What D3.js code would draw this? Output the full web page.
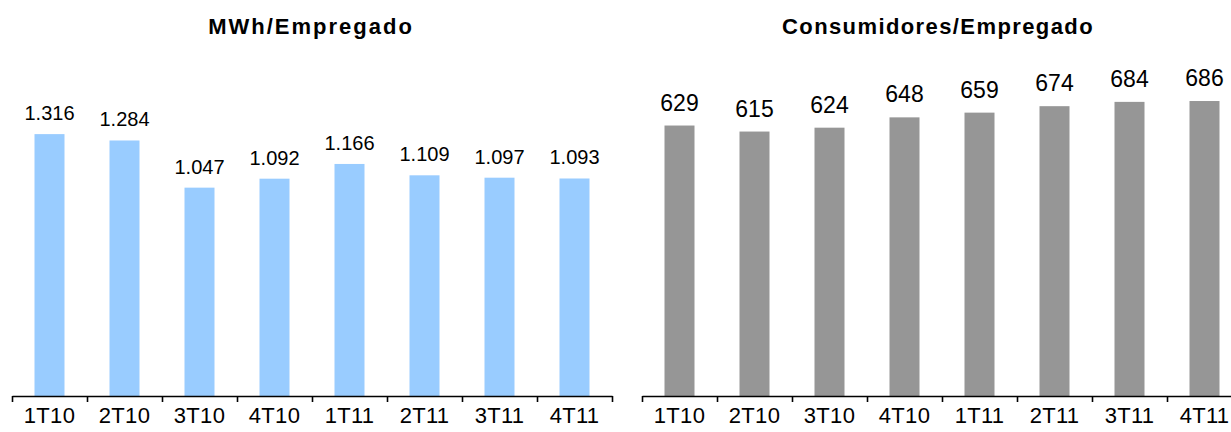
<!DOCTYPE html>
<html>
<head>
<meta charset="utf-8">
<script src="https://cdn.jsdelivr.net/npm/d3@7"></script>
<style>
  body { margin: 0; background: #fff; overflow: hidden; }
  svg { display: block; font-family: "Liberation Sans", Arial, sans-serif; }
</style>
</head>
<body>
<svg id="chart"></svg>
<script>
// Data
const quarters = ["1T10", "2T10", "3T10", "4T10", "1T11", "2T11", "3T11", "4T11"];
const mwhPerEmployee = [1.316, 1.284, 1.047, 1.092, 1.166, 1.109, 1.097, 1.093];
const consumersPerEmployee = [629, 615, 624, 648, 659, 674, 684, 686];

const width = 1231, height = 432;
const baseY = 396;

const svg = d3.select("#chart").attr("width", width).attr("height", height);

function drawPanel(opts) {
  const g = svg.append("g");

  // band scale for bars (step = 75px)
  const x = d3.scaleBand()
    .domain(quarters)
    .range([opts.x0, opts.x0 + 600])
    .paddingInner(0.6)
    .paddingOuter(0.3);

  const y = d3.scaleLinear()
    .domain(opts.domain)
    .range([baseY, opts.top]);

  // Title
  g.append("text")
    .attr("x", opts.titleX)
    .attr("y", 33.5)
    .attr("text-anchor", "middle")
    .style("font-size", "22px")
    .style("font-weight", "bold")
    .style("letter-spacing", opts.titleSpacing + "px")
    .text(opts.title);

  // Bars
  g.append("g")
    .selectAll("rect")
    .data(opts.values)
    .join("rect")
    .attr("x", (d, i) => x(quarters[i]))
    .attr("y", (d) => y(d))
    .attr("width", x.bandwidth())
    .attr("height", (d) => baseY - y(d))
    .attr("fill", opts.color);

  // Value labels
  g.append("g")
    .selectAll("text")
    .data(opts.values)
    .join("text")
    .attr("x", (d, i) => x(quarters[i]) + x.bandwidth() / 2)
    .attr("y", (d) => y(d) - opts.labelGap)
    .attr("text-anchor", "middle")
    .style("font-size", opts.labelSize + "px")
    .attr("fill", "#000")
    .text(opts.format);

  // Tick marks at category boundaries
  const xb = d3.scaleLinear().domain([0, quarters.length]).range([opts.x0, opts.x0 + 600]);
  const tickAxis = g.append("g")
    .attr("transform", `translate(0,${baseY})`)
    .call(d3.axisBottom(xb).tickValues(d3.range(quarters.length + 1)).tickSize(6).tickSizeOuter(0).tickFormat(""));
  tickAxis.selectAll("path, line").attr("stroke", "#000").attr("stroke-width", 1.6);

  // Category labels
  const labelAxis = g.append("g")
    .attr("transform", `translate(0,${baseY})`)
    .call(d3.axisBottom(x).tickSize(0).tickPadding(11));
  labelAxis.select(".domain").remove();
  labelAxis.selectAll("text")
    .style("font-size", "22px")
    .style("letter-spacing", "0.3px")
    .style("font-family", "'Liberation Sans', Arial, sans-serif")
    .attr("fill", "#000");
}

drawPanel({
  x0: 12,
  title: "MWh/Empregado",
  titleX: 311,
  titleSpacing: 2,
  values: mwhPerEmployee,
  domain: [0, 1.4],
  top: baseY - 1.4 * 199,
  color: "#99CCFF",
  labelSize: 20,
  labelGap: 14,
  format: (d) => d3.format(".3f")(d)
});

drawPanel({
  x0: 642,
  title: "Consumidores/Empregado",
  titleX: 938,
  titleSpacing: 1.4,
  values: consumersPerEmployee,
  domain: [0, 800],
  top: baseY - 800 * 0.43,
  color: "#969696",
  labelSize: 23,
  labelGap: 15,
  format: (d) => d3.format("d")(d)
});
</script>
</body>
</html>
